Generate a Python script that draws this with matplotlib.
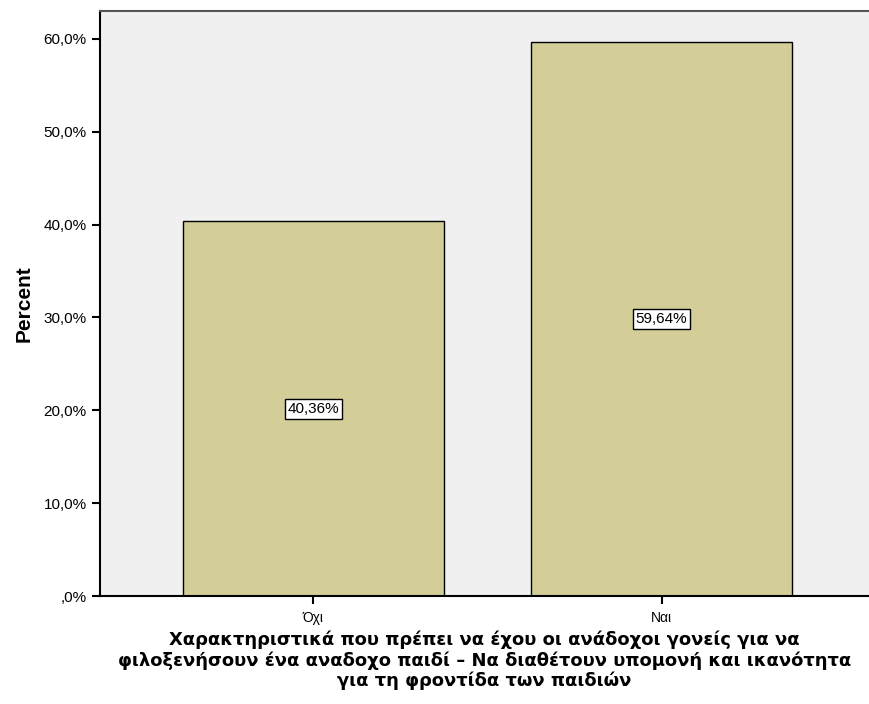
import matplotlib.pyplot as plt
from matplotlib.ticker import FuncFormatter

plt.rcParams['font.family'] = ['Liberation Sans', 'DejaVu Sans']

categories = ["Όχι", "Ναι"]
percents = [40.36, 59.64]
yticks = [0, 10, 20, 30, 40, 50, 60]

fig = plt.figure(figsize=(8.69, 7.04), dpi=100)
ax = fig.add_axes([100/869, 1-596/704, 769/869, (596-11)/704])
ax.set_facecolor('#f0f0f0')

x = list(range(len(categories)))
ax.bar(x, percents, width=0.75, color='#d3ce97', edgecolor='black', linewidth=1, zorder=2)

for xi, p in zip(x, percents):
    lbl = ("%.2f%%" % p).replace('.', ',')
    ax.text(xi, p/2, lbl, ha='center', va='center', fontsize=11, zorder=3,
            bbox=dict(boxstyle='square,pad=0.2', facecolor='white', edgecolor='black', linewidth=1))

ax.set_xlim(-0.613, 1.596)
ax.set_ylim(0, 63)
ax.set_xticks(x)
ax.set_xticklabels(categories)
ax.set_yticks(yticks)
ax.yaxis.set_major_formatter(FuncFormatter(lambda v, pos: ("%.1f%%" % v).replace('.', ',').lstrip('0') if v != 0 else ",0%"))
ax.tick_params(axis='both', direction='out', length=6, width=1.5, colors='black', labelsize=11)
ax.tick_params(axis='x', labelsize=10, pad=5)

for s in ['left', 'bottom']:
    ax.spines[s].set_linewidth(1.5)
    ax.spines[s].set_color('black')
ax.spines['top'].set_color('#555555')
ax.spines['top'].set_linewidth(1.5)
ax.spines['right'].set_visible(False)

ax.set_ylabel("Percent", fontsize=15, fontweight='bold', labelpad=7)
ax.set_xlabel("Χαρακτηριστικά που πρέπει να έχου οι ανάδοχοι γονείς για να\n"
              "φιλοξενήσουν ένα αναδοχο παιδί – Να διαθέτουν υπομονή και ικανότητα\n"
              "για τη φροντίδα των παιδιών",
              family='DejaVu Sans', fontsize=12.9, fontweight='bold', linespacing=1.12, labelpad=4)

fig.savefig("out.png", dpi=100)
